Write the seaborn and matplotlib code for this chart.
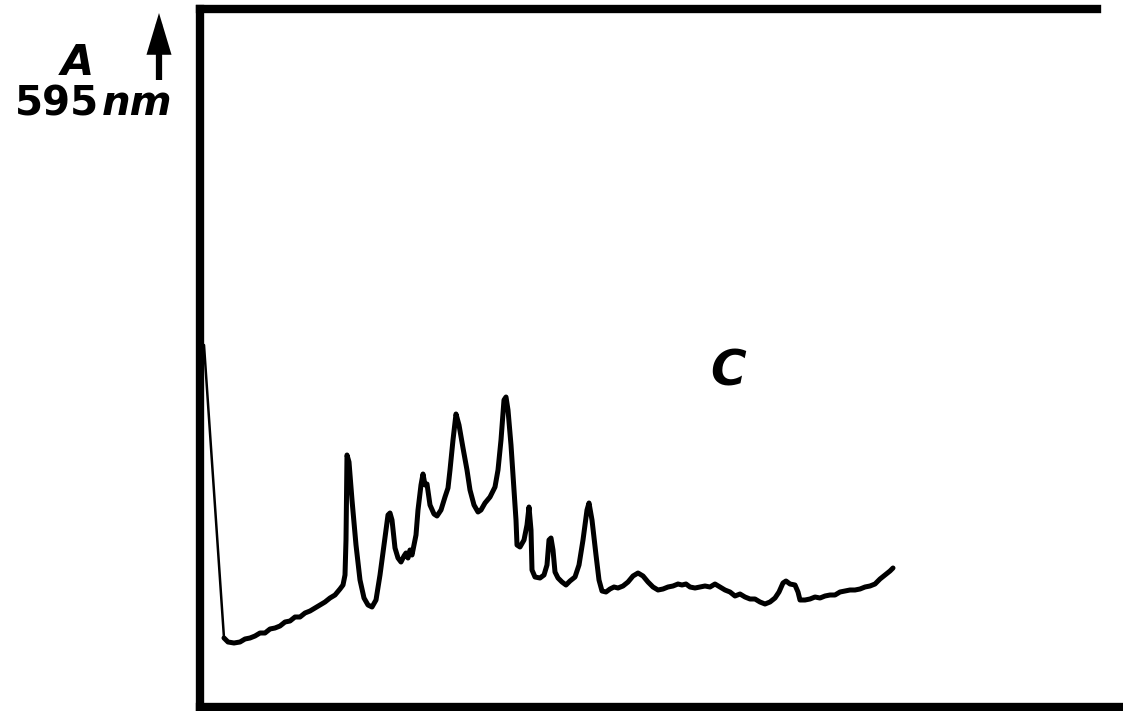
import matplotlib
matplotlib.use("Agg")
import matplotlib.pyplot as plt
import seaborn as sns
import pandas as pd

# Elution position (arbitrary units) and absorbance at 595 nm
elution = [24, 28, 34, 40, 45, 50, 55, 60, 65, 70, 75, 80, 85, 90, 95, 100, 105, 110, 115, 120,
           125, 130, 135, 140, 143, 145, 146, 147, 149, 152, 156, 160, 164, 168, 172, 176, 180,
           184, 188, 190, 192, 195, 198, 201, 204, 206, 208, 210, 212, 214, 216, 218, 221, 223,
           225, 227, 230, 234, 237, 241, 245, 248, 250, 253, 256, 259, 263, 267, 270, 274, 278,
           281, 285, 290, 295, 298, 301, 304, 306, 308, 311, 314, 316, 317, 320, 324, 327, 329,
           331, 332, 335, 340, 344, 347, 349, 351, 353, 355, 358, 362, 366, 370, 375, 379, 383,
           387, 389, 392, 396, 399, 402, 406, 410, 414, 418, 423, 428, 433, 438, 443, 448, 453,
           458, 463, 468, 473, 478, 482, 486, 490, 495, 500, 505, 510, 515, 520, 525, 530, 535,
           540, 545, 550, 555, 560, 565, 570, 575, 579, 583, 586, 590, 595, 598, 600, 605, 610,
           615, 620, 625, 630, 635, 640, 645, 650, 655, 660, 665, 670, 675, 680, 685, 690, 693]
absorbance = [0.069, 0.065, 0.064, 0.065, 0.068, 0.069, 0.071, 0.074, 0.074, 0.078, 0.079, 0.081,
              0.085, 0.086, 0.090, 0.090, 0.094, 0.096, 0.099, 0.102, 0.105, 0.109, 0.112, 0.118,
              0.122, 0.132, 0.167, 0.252, 0.245, 0.207, 0.162, 0.127, 0.109, 0.102, 0.100, 0.107,
              0.132, 0.162, 0.192, 0.194, 0.187, 0.159, 0.149, 0.145, 0.151, 0.154, 0.149, 0.157,
              0.152, 0.162, 0.172, 0.197, 0.222, 0.233, 0.222, 0.223, 0.202, 0.193, 0.191, 0.197,
              0.210, 0.219, 0.237, 0.267, 0.293, 0.282, 0.259, 0.237, 0.217, 0.202, 0.195, 0.197,
              0.204, 0.210, 0.220, 0.237, 0.267, 0.307, 0.310, 0.297, 0.262, 0.217, 0.187, 0.162,
              0.160, 0.167, 0.182, 0.200, 0.177, 0.137, 0.130, 0.129, 0.132, 0.142, 0.167, 0.169,
              0.157, 0.135, 0.129, 0.125, 0.122, 0.126, 0.130, 0.142, 0.167, 0.197, 0.204, 0.187,
              0.152, 0.127, 0.116, 0.115, 0.118, 0.120, 0.119, 0.121, 0.125, 0.131, 0.134, 0.131,
              0.125, 0.120, 0.117, 0.118, 0.120, 0.121, 0.123, 0.122, 0.123, 0.120, 0.119, 0.120,
              0.121, 0.120, 0.123, 0.120, 0.117, 0.115, 0.111, 0.113, 0.110, 0.108, 0.108, 0.105,
              0.103, 0.105, 0.109, 0.115, 0.124, 0.126, 0.123, 0.122, 0.115, 0.107, 0.107, 0.108,
              0.110, 0.109, 0.111, 0.112, 0.112, 0.115, 0.116, 0.117, 0.117, 0.118, 0.120, 0.121,
              0.123, 0.128, 0.132, 0.136, 0.139]

# Initial pen descent (injection / void front)
front_elution = [4, 24]
front_absorbance = [0.362, 0.069]

panel_label = "C"
ylabel_top = "A"
ylabel_num = "595"
ylabel_unit = "nm"

sns.set_theme(style="white")
plt.rcParams["font.family"] = ["DejaVu Sans"]

W, H = 1123, 711
fig = plt.figure(figsize=(W / 100, H / 100), dpi=100)
ax = fig.add_axes([200 / W, 4 / H, (W - 200) / W, (707 - 9) / H])

df = pd.DataFrame({"elution": elution, "absorbance": absorbance})
df_front = pd.DataFrame({"elution": front_elution, "absorbance": front_absorbance})
sns.lineplot(data=df, x="elution", y="absorbance", color="black", linewidth=3.6, ax=ax,
             sort=False, estimator=None)
sns.lineplot(data=df_front, x="elution", y="absorbance", color="black", linewidth=1.8, ax=ax,
             sort=False, estimator=None)

ax.set_xlim(0, 923)
ax.set_ylim(0, 0.698)
ax.set_xticks([])
ax.set_yticks([])
ax.set_xlabel("")
ax.set_ylabel("")
for s in ["left", "top", "bottom"]:
    ax.spines[s].set_visible(True)
    ax.spines[s].set_color("black")
    ax.spines[s].set_linewidth(6.0)
ax.spines["right"].set_visible(False)
ax.spines["top"].set_bounds(0, 897)

ax.text(528, 0.336, panel_label, fontsize=35, fontweight="bold", fontstyle="italic",
        ha="center", va="center", color="black")

def fx(px):
    return px / W

def fy(py):
    return 1 - py / H

fig.text(fx(77), fy(63), ylabel_top, fontsize=31, fontweight="bold", fontstyle="italic",
         ha="center", va="center", color="black")
fig.text(fx(99), fy(115), ylabel_num, fontsize=29, fontweight="bold",
         ha="right", va="baseline", color="black")
fig.text(fx(102), fy(115), ylabel_unit, fontsize=29, fontweight="bold", fontstyle="italic",
         ha="left", va="baseline", color="black")

ax.annotate("", xy=(fx(159), fy(13)), xycoords="figure fraction",
            xytext=(fx(159), fy(80)), textcoords="figure fraction",
            arrowprops=dict(arrowstyle="-|>,head_width=0.3,head_length=1.0",
                            mutation_scale=20, lw=4.5, color="black",
                            joinstyle="miter", capstyle="butt",
                            shrinkA=0, shrinkB=0))

fig.savefig("out.png", dpi=100, facecolor="white")
